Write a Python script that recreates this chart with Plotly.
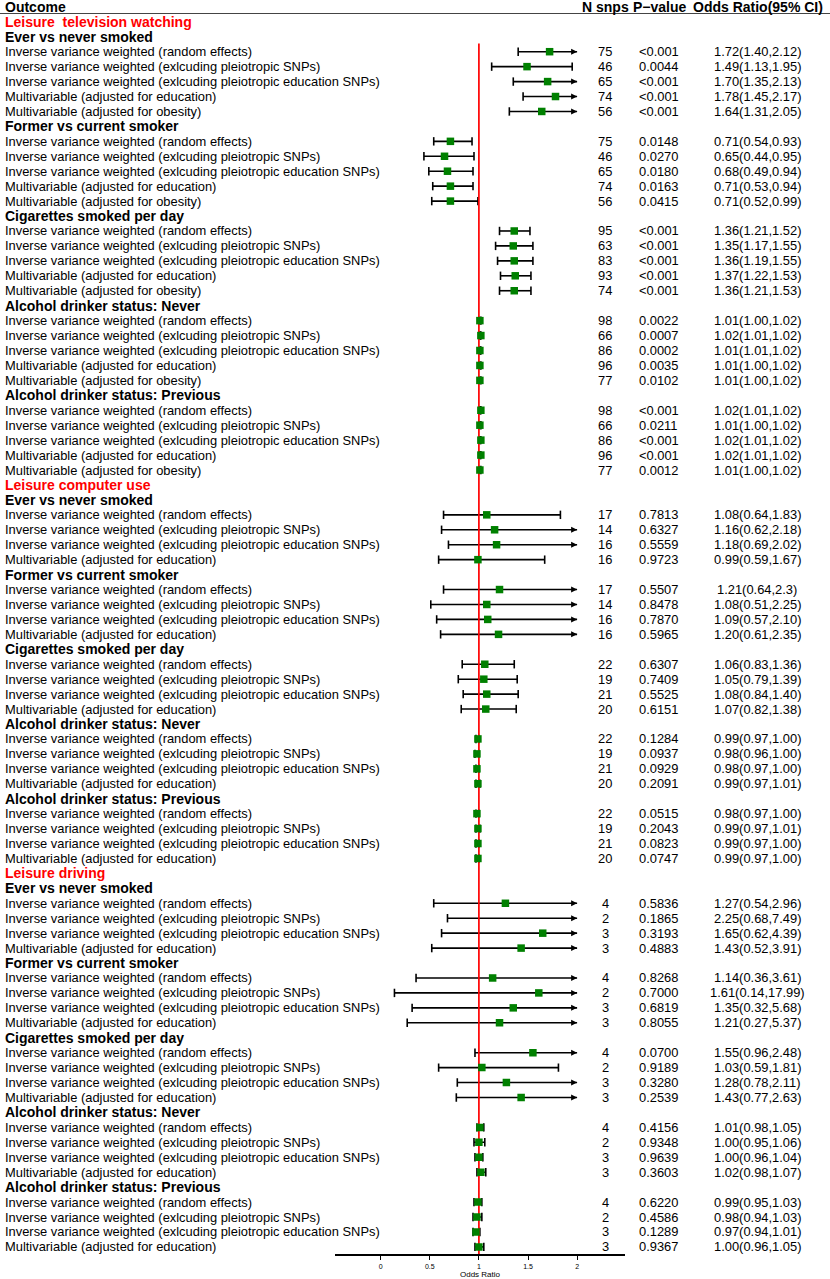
import plotly.graph_objects as go

W, H = 830, 1279

# ---------------- data ----------------
sections = ["Leisure  television watching", "Leisure computer use", "Leisure driving"]
outcomes = ["Ever vs never smoked", "Former vs current smoker", "Cigarettes smoked per day",
            "Alcohol drinker status: Never", "Alcohol drinker status: Previous"]
methods_tv = ["Inverse variance weighted (random effects)",
              "Inverse variance weighted (exlcuding pleiotropic SNPs)",
              "Inverse variance weighted (exlcuding pleiotropic education SNPs)",
              "Multivariable (adjusted for education)",
              "Multivariable (adjusted for obesity)"]
methods_other = methods_tv[:4]

tv_n = [75, 46, 65, 74, 56, 75, 46, 65, 74, 56, 95, 63, 83, 93, 74,
        98, 66, 86, 96, 77, 98, 66, 86, 96, 77]
tv_p = ["<0.001", "0.0044", "<0.001", "<0.001", "<0.001",
        "0.0148", "0.0270", "0.0180", "0.0163", "0.0415",
        "<0.001", "<0.001", "<0.001", "<0.001", "<0.001",
        "0.0022", "0.0007", "0.0002", "0.0035", "0.0102",
        "<0.001", "0.0211", "<0.001", "<0.001", "0.0012"]
tv_or = [1.72, 1.49, 1.70, 1.78, 1.64, 0.71, 0.65, 0.68, 0.71, 0.71,
         1.36, 1.35, 1.36, 1.37, 1.36, 1.01, 1.02, 1.01, 1.01, 1.01,
         1.02, 1.01, 1.02, 1.02, 1.01]
tv_lo = [1.40, 1.13, 1.35, 1.45, 1.31, 0.54, 0.44, 0.49, 0.53, 0.52,
         1.21, 1.17, 1.19, 1.22, 1.21, 1.00, 1.01, 1.01, 1.00, 1.00,
         1.01, 1.00, 1.01, 1.01, 1.00]
tv_hi = [2.12, 1.95, 2.13, 2.17, 2.05, 0.93, 0.95, 0.94, 0.94, 0.99,
         1.52, 1.55, 1.55, 1.53, 1.53, 1.02, 1.02, 1.02, 1.02, 1.02,
         1.02, 1.02, 1.02, 1.02, 1.02]
tv_ci = ["1.72(1.40,2.12)", "1.49(1.13,1.95)", "1.70(1.35,2.13)", "1.78(1.45,2.17)", "1.64(1.31,2.05)",
         "0.71(0.54,0.93)", "0.65(0.44,0.95)", "0.68(0.49,0.94)", "0.71(0.53,0.94)", "0.71(0.52,0.99)",
         "1.36(1.21,1.52)", "1.35(1.17,1.55)", "1.36(1.19,1.55)", "1.37(1.22,1.53)", "1.36(1.21,1.53)",
         "1.01(1.00,1.02)", "1.02(1.01,1.02)", "1.01(1.01,1.02)", "1.01(1.00,1.02)", "1.01(1.00,1.02)",
         "1.02(1.01,1.02)", "1.01(1.00,1.02)", "1.02(1.01,1.02)", "1.02(1.01,1.02)", "1.01(1.00,1.02)"]

pc_n = [17, 14, 16, 16, 17, 14, 16, 16, 22, 19, 21, 20, 22, 19, 21, 20, 22, 19, 21, 20]
pc_p = ["0.7813", "0.6327", "0.5559", "0.9723",
        "0.5507", "0.8478", "0.7870", "0.5965",
        "0.6307", "0.7409", "0.5525", "0.6151",
        "0.1284", "0.0937", "0.0929", "0.2091",
        "0.0515", "0.2043", "0.0823", "0.0747"]
pc_or = [1.08, 1.16, 1.18, 0.99, 1.21, 1.08, 1.09, 1.20, 1.06, 1.05, 1.08, 1.07,
         0.99, 0.98, 0.98, 0.99, 0.98, 0.99, 0.99, 0.99]
pc_lo = [0.64, 0.62, 0.69, 0.59, 0.64, 0.51, 0.57, 0.61, 0.83, 0.79, 0.84, 0.82,
         0.97, 0.96, 0.97, 0.97, 0.97, 0.97, 0.97, 0.97]
pc_hi = [1.83, 2.18, 2.02, 1.67, 2.3, 2.25, 2.10, 2.35, 1.36, 1.39, 1.40, 1.38,
         1.00, 1.00, 1.00, 1.01, 1.00, 1.01, 1.00, 1.00]
pc_ci = ["1.08(0.64,1.83)", "1.16(0.62,2.18)", "1.18(0.69,2.02)", "0.99(0.59,1.67)",
         "1.21(0.64,2.3)", "1.08(0.51,2.25)", "1.09(0.57,2.10)", "1.20(0.61,2.35)",
         "1.06(0.83,1.36)", "1.05(0.79,1.39)", "1.08(0.84,1.40)", "1.07(0.82,1.38)",
         "0.99(0.97,1.00)", "0.98(0.96,1.00)", "0.98(0.97,1.00)", "0.99(0.97,1.01)",
         "0.98(0.97,1.00)", "0.99(0.97,1.01)", "0.99(0.97,1.00)", "0.99(0.97,1.00)"]

dr_n = [4, 2, 3, 3, 4, 2, 3, 3, 4, 2, 3, 3, 4, 2, 3, 3, 4, 2, 3, 3]
dr_p = ["0.5836", "0.1865", "0.3193", "0.4883",
        "0.8268", "0.7000", "0.6819", "0.8055",
        "0.0700", "0.9189", "0.3280", "0.2539",
        "0.4156", "0.9348", "0.9639", "0.3603",
        "0.6220", "0.4586", "0.1289", "0.9367"]
dr_or = [1.27, 2.25, 1.65, 1.43, 1.14, 1.61, 1.35, 1.21, 1.55, 1.03, 1.28, 1.43,
         1.01, 1.00, 1.00, 1.02, 0.99, 0.98, 0.97, 1.00]
dr_lo = [0.54, 0.68, 0.62, 0.52, 0.36, 0.14, 0.32, 0.27, 0.96, 0.59, 0.78, 0.77,
         0.98, 0.95, 0.96, 0.98, 0.95, 0.94, 0.94, 0.96]
dr_hi = [2.96, 7.49, 4.39, 3.91, 3.61, 17.99, 5.68, 5.37, 2.48, 1.81, 2.11, 2.63,
         1.05, 1.06, 1.04, 1.07, 1.03, 1.03, 1.01, 1.05]
dr_ci = ["1.27(0.54,2.96)", "2.25(0.68,7.49)", "1.65(0.62,4.39)", "1.43(0.52,3.91)",
         "1.14(0.36,3.61)", "1.61(0.14,17.99)", "1.35(0.32,5.68)", "1.21(0.27,5.37)",
         "1.55(0.96,2.48)", "1.03(0.59,1.81)", "1.28(0.78,2.11)", "1.43(0.77,2.63)",
         "1.01(0.98,1.05)", "1.00(0.95,1.06)", "1.00(0.96,1.04)", "1.02(0.98,1.07)",
         "0.99(0.95,1.03)", "0.98(0.94,1.03)", "0.97(0.94,1.01)", "1.00(0.96,1.05)"]

x_ticks = [0, 0.5, 1, 1.5, 2]
x_ticktext = ["0", "0.5", "1", "1.5", "2"]
x_clip = 2.0
ref_value = 1

# ---------------- layout geometry ----------------
FONT = "Liberation Sans, Arial, Helvetica, sans-serif"
X0_PX, X_SCALE = 380.7, 98.2          # pixel of OR=0 and px per unit
AX_L, AX_R = 335, 625                 # x-axis line span (px)
ROW0, ROWH = 6.88, 14.94              # pixel y of row 0, row height
AX_Y = 1254.4                         # x-axis line pixel y
FS_DATA = 12.9
FS_HEAD = 14

def row_of_px(py):
    return (py - ROW0) / ROWH

x_range = [(AX_L - X0_PX) / X_SCALE, (AX_R - X0_PX) / X_SCALE]
y_bottom = row_of_px(AX_Y)
y_top = row_of_px(0)

# ---------------- build rows ----------------
rows = []
section_data = [
    (methods_tv, tv_n, tv_p, tv_or, tv_lo, tv_hi, tv_ci),
    (methods_other, pc_n, pc_p, pc_or, pc_lo, pc_hi, pc_ci),
    (methods_other, dr_n, dr_p, dr_or, dr_lo, dr_hi, dr_ci),
]
for title, (meths, n, p, o, lo, hi, ci) in zip(sections, section_data):
    rows.append(("title", title))
    k = 0
    for oc in outcomes:
        rows.append(("group", oc))
        for m in meths:
            rows.append(("data", m, n[k], p[k], o[k], lo[k], hi[k], ci[k]))
            k += 1

annotations = []
def add_text(px, row, text, size, color="black", bold=False, anchor="left"):
    annotations.append(dict(
        x=px / W, xref="paper", y=row, yref="y", text=f"<b>{text}</b>" if bold else text,
        showarrow=False, xanchor=anchor, yanchor="middle",
        font=dict(family=FONT, size=size, color=color)))

# header
add_text(2.5, 0, "Outcome", FS_HEAD, bold=True)
add_text(605, 0, "N snps", FS_HEAD, bold=True, anchor="center")
add_text(631, 0, "P\u2212value", FS_HEAD, bold=True)
add_text(758, 0, "Odds Ratio(95% CI)", FS_HEAD, bold=True, anchor="center")

wx, wy = [], []
cap_x, cap_y = [], []
arr_x, arr_y = [], []
mk_x, mk_y = [], []
for i, r in enumerate(rows, start=1):
    if r[0] == "title":
        add_text(2.5, i, r[1], FS_HEAD, color="#ff0000", bold=True)
    elif r[0] == "group":
        add_text(2.5, i, r[1], FS_HEAD, bold=True)
    else:
        _, lab, n, p, o, lo, hi, ci = r
        add_text(2.5, i, lab, FS_DATA)
        add_text(605, i, str(n), FS_DATA, anchor="center")
        add_text(637, i, p, FS_DATA)
        add_text(757, i, ci, FS_DATA, anchor="center")
        right = min(hi, x_clip)
        wx += [lo, right, None]
        wy += [i, i, None]
        cap_x.append(lo); cap_y.append(i)
        if hi > x_clip:
            arr_x.append(x_clip); arr_y.append(i)
        else:
            cap_x.append(hi); cap_y.append(i)
        if o <= x_clip:
            mk_x.append(o); mk_y.append(i)

fig = go.Figure()
fig.add_trace(go.Scatter(x=wx, y=wy, mode="lines", line=dict(color="black", width=1.6),
                         hoverinfo="skip", showlegend=False))
fig.add_trace(go.Scatter(x=cap_x, y=cap_y, mode="markers",
                         marker=dict(symbol="line-ns", size=6, line=dict(color="black", width=1.6)),
                         hoverinfo="skip", showlegend=False))
fig.add_trace(go.Scatter(x=arr_x, y=arr_y, mode="markers",
                         marker=dict(symbol="arrow-right", size=6, color="black"),
                         hoverinfo="skip", showlegend=False))
fig.add_trace(go.Scatter(x=[ref_value, ref_value], y=[2.45, y_bottom], mode="lines",
                         line=dict(color="#ff0000", width=1.7), hoverinfo="skip", showlegend=False))
fig.add_trace(go.Scatter(x=mk_x, y=mk_y, mode="markers",
                         marker=dict(symbol="square", size=7.5, color="#008000"),
                         showlegend=False))

# header underline
fig.add_shape(type="line", xref="paper", x0=0, x1=1, yref="y",
              y0=row_of_px(13.5), y1=row_of_px(13.5), line=dict(color="#444444", width=1))

fig.update_layout(
    width=W, height=H, margin=dict(l=0, r=0, t=0, b=0),
    paper_bgcolor="white", plot_bgcolor="white",
    annotations=annotations,
    xaxis=dict(domain=[AX_L / W, AX_R / W], range=x_range, showgrid=False, zeroline=False,
               showline=True, linecolor="black", linewidth=1.6,
               ticks="outside", ticklen=4, tickwidth=1.2, tickcolor="black",
               tickvals=x_ticks, ticktext=x_ticktext,
               tickfont=dict(family=FONT, size=7, color="black"),
               title=dict(text="Odds Ratio", font=dict(family=FONT, size=8, color="black"), standoff=1)),
    yaxis=dict(domain=[(H - AX_Y) / H, 1], range=[y_bottom, y_top], visible=False),
)

fig.write_html("out.html", config={"displayModeBar": False},
               post_script="document.body.style.margin='0';")
